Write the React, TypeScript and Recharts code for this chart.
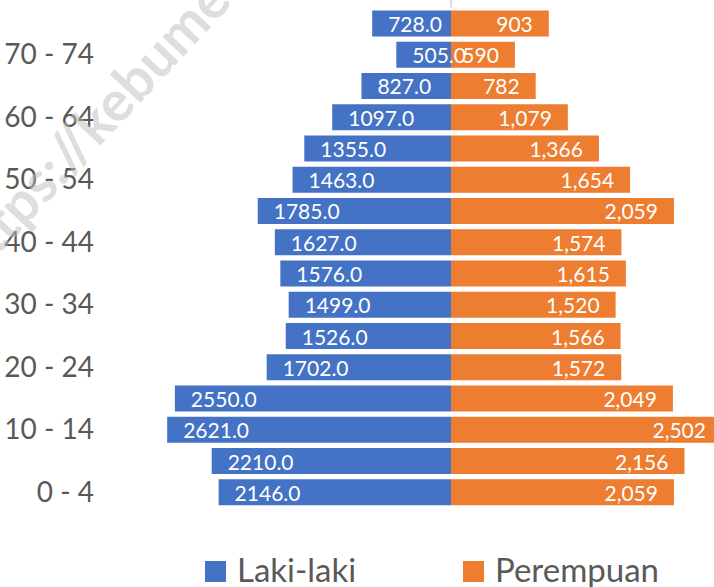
import { BarChart, Bar, XAxis, YAxis, ReferenceLine, LabelList } from 'recharts';

const ageGroups = [
  '0 - 4', '5 - 9', '10 - 14', '15 - 19', '20 - 24', '25 - 29', '30 - 34', '35 - 39',
  '40 - 44', '45 - 49', '50 - 54', '55 - 59', '60 - 64', '65 - 69', '70 - 74', '75+',
];
const lakiLaki = [2146, 2210, 2621, 2550, 1702, 1526, 1499, 1576, 1627, 1785, 1463, 1355, 1097, 827, 505, 728];
const perempuan = [2059, 2156, 2502, 2049, 1572, 1566, 1520, 1615, 1574, 2059, 1654, 1366, 1079, 782, 590, 903];

const BLUE = '#4472C4';
const ORANGE = '#ED7D31';
const FONT = 'Lato, "Open Sans", sans-serif';

// male bars go left, so stored as negatives
const data = ageGroups.map((age, i) => ({
  age,
  male: -lakiLaki[i],
  female: perempuan[i],
}));

const MaleLabel = (props: any) => {
  const { x, y, width, height, value } = props;
  const left = Math.min(x, x + width);
  return (
    <text x={left + 16} y={y + height / 2} dominantBaseline="central" textAnchor="start"
      fill="#fff" fontFamily={FONT} fontSize={21}>
      {Math.abs(value).toFixed(1)}
    </text>
  );
};

const FemaleLabel = (props: any) => {
  const { x, y, width, height, value } = props;
  const right = Math.max(x, x + width);
  return (
    <text x={right - 16} y={y + height / 2} dominantBaseline="central" textAnchor="end"
      fill="#fff" fontFamily={FONT} fontSize={21}>
      {Number(value).toLocaleString('en-US')}
    </text>
  );
};

const AxisLine = (props: any) => (
  <line x1={props.x1} y1={0} x2={props.x2} y2={props.y2} stroke="#D9D9D9" strokeWidth={2} />
);

function LegendItem({ color, text, left }: { color: string; text: string; left: number }) {
  return (
    <div style={{ position: 'absolute', left, top: 553, height: 33, display: 'flex', alignItems: 'flex-start' }}>
      <div style={{ width: 21, height: 21, background: color, marginRight: 11, marginTop: 8 }} />
      <span style={{ fontFamily: FONT, fontSize: 33, color: '#595959', lineHeight: '33px' }}>{text}</span>
    </div>
  );
}

export default function App() {
  return (
    <div style={{ position: 'fixed', left: 0, top: 0, width: 714, height: 587, overflow: 'hidden', background: '#fff' }}>
      <BarChart
        width={780}
        height={587}
        data={data}
        layout="vertical"
        stackOffset="sign"
        barSize={26}
        margin={{ top: 7.4, right: 0, left: 0, bottom: 79.4 }}
      >
        <XAxis type="number" hide domain={[-3149, 3038]} allowDataOverflow />
        <YAxis
          type="category"
          dataKey="age"
          reversed
          interval={1}
          width={110}
          axisLine={false}
          tickLine={false}
          tickSize={0}
          tickMargin={16}
          tick={{ fill: '#595959', fontSize: 28, fontFamily: FONT }}
        />
        <Bar dataKey="male" stackId="a" fill={BLUE} name="Laki-laki" isAnimationActive={false}>
          <LabelList dataKey="male" content={MaleLabel} />
        </Bar>
        <Bar dataKey="female" stackId="a" fill={ORANGE} name="Perempuan" isAnimationActive={false}>
          <LabelList dataKey="female" content={FemaleLabel} />
        </Bar>
        <ReferenceLine x={0} shape={AxisLine} ifOverflow="visible" />
      </BarChart>

      <LegendItem color={BLUE} text="Laki-laki" left={205} />
      <LegendItem color={ORANGE} text="Perempuan" left={463} />

      <svg width={714} height={587} style={{ position: 'absolute', left: 0, top: 0, pointerEvents: 'none' }}>
        <text x={-25} y={280} transform="rotate(-47 -25 280)" fontFamily={FONT} fontWeight="bold"
          fontSize={56} fill="#BFBFBF" opacity={0.5}>
          https://kebumenkab.bps.go.id
        </text>
      </svg>
    </div>
  );
}
